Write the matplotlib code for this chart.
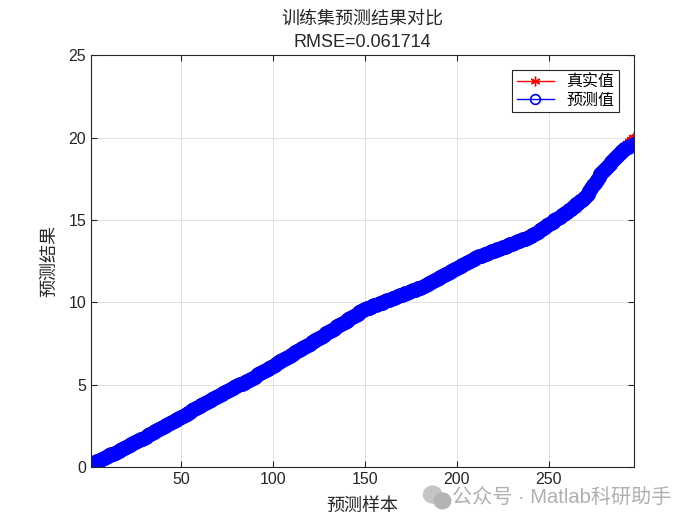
import numpy as np
import matplotlib
matplotlib.use('Agg')
import matplotlib.pyplot as plt
from matplotlib.patches import Ellipse

plt.rcParams['font.family'] = ['Liberation Sans', 'Noto Sans CJK SC', 'DejaVu Sans']
plt.rcParams['axes.unicode_minus'] = False

# 真实值 (样本 1..296)
y_true = [
    0.08, 0.21, 0.26, 0.32, 0.38, 0.43, 0.49, 0.55, 0.61, 0.66,
    0.72, 0.78, 0.83, 0.89, 0.95, 1.00, 1.06, 1.12, 1.17, 1.23,
    1.29, 1.35, 1.40, 1.46, 1.52, 1.57, 1.63, 1.69, 1.74, 1.80,
    1.86, 1.93, 1.99, 2.05, 2.12, 2.18, 2.24, 2.31, 2.37, 2.43,
    2.50, 2.56, 2.62, 2.69, 2.75, 2.81, 2.88, 2.94, 3.00, 3.07,
    3.13, 3.19, 3.26, 3.32, 3.38, 3.45, 3.51, 3.57, 3.64, 3.70,
    3.76, 3.82, 3.88, 3.94, 4.00, 4.06, 4.12, 4.18, 4.24, 4.30,
    4.36, 4.42, 4.48, 4.54, 4.60, 4.66, 4.72, 4.78, 4.84, 4.90,
    4.96, 5.02, 5.08, 5.14, 5.20, 5.26, 5.32, 5.38, 5.44, 5.50,
    5.57, 5.63, 5.70, 5.77, 5.83, 5.90, 5.97, 6.03, 6.10, 6.17,
    6.23, 6.30, 6.37, 6.43, 6.50, 6.57, 6.63, 6.70, 6.77, 6.83,
    6.90, 6.97, 7.03, 7.10, 7.17, 7.23, 7.30, 7.37, 7.43, 7.50,
    7.57, 7.64, 7.71, 7.78, 7.85, 7.92, 7.99, 8.06, 8.13, 8.20,
    8.27, 8.34, 8.41, 8.48, 8.55, 8.62, 8.69, 8.76, 8.83, 8.90,
    8.97, 9.04, 9.11, 9.18, 9.25, 9.32, 9.39, 9.46, 9.53, 9.60,
    9.64, 9.69, 9.73, 9.77, 9.82, 9.86, 9.90, 9.95, 9.99, 10.03,
    10.08, 10.12, 10.16, 10.21, 10.25, 10.29, 10.34, 10.38, 10.42, 10.47,
    10.51, 10.55, 10.60, 10.64, 10.68, 10.73, 10.77, 10.81, 10.86, 10.90,
    10.96, 11.02, 11.08, 11.14, 11.20, 11.26, 11.32, 11.38, 11.44, 11.50,
    11.56, 11.62, 11.68, 11.74, 11.80, 11.86, 11.92, 11.98, 12.04, 12.10,
    12.16, 12.22, 12.28, 12.34, 12.40, 12.46, 12.52, 12.58, 12.64, 12.70,
    12.74, 12.79, 12.83, 12.87, 12.92, 12.96, 13.00, 13.05, 13.09, 13.13,
    13.18, 13.22, 13.26, 13.31, 13.35, 13.39, 13.44, 13.48, 13.52, 13.57,
    13.61, 13.65, 13.70, 13.74, 13.78, 13.83, 13.87, 13.91, 13.96, 14.00,
    14.08, 14.15, 14.23, 14.30, 14.38, 14.45, 14.53, 14.60, 14.68, 14.75,
    14.83, 14.90, 14.98, 15.05, 15.13, 15.20, 15.28, 15.35, 15.43, 15.50,
    15.59, 15.68, 15.77, 15.86, 15.95, 16.04, 16.13, 16.23, 16.34, 16.46,
    16.60, 16.76, 16.93, 17.10, 17.27, 17.44, 17.61, 17.78,
    17.92, 18.05, 18.18, 18.30, 18.42, 18.54, 18.66, 18.78, 18.90, 19.02,
    19.14, 19.27, 19.39, 19.51, 19.63, 19.76, 19.88, 20.00,
]

# 预测值: 中间段与真实值基本重合, 首尾有偏差
pred_head = [0.22, 0.26, 0.31, 0.35, 0.40]
pred_tail = [18.88, 18.99, 19.10, 19.20, 19.29, 19.37, 19.44, 19.50, 19.55, 19.60]
y_pred = pred_head + y_true[len(pred_head):-len(pred_tail)] + pred_tail

rmse_text = 'RMSE=0.061714'
x = np.arange(1, len(y_true) + 1)

fig = plt.figure(figsize=(7, 5.25), dpi=100)
ax = fig.add_axes([0.13, 0.11, 0.775, 0.785])

asterisk = (6, 2, 0)
ax.plot(x, y_true, color='red', marker=asterisk, markersize=9, linewidth=1.0,
        markeredgewidth=1.2, label='真实值')
ax.plot(x, y_pred, color='blue', marker='o', markersize=9, linewidth=1.0,
        markerfacecolor='none', markeredgewidth=1.8, label='预测值')

ax.set_xlim(1, len(y_true))
ax.set_ylim(0, 25)
ax.set_xticks([50, 100, 150, 200, 250])
ax.set_yticks([0, 5, 10, 15, 20, 25])
ax.grid(True, color='#dcdcdc', linewidth=0.6)
ax.set_axisbelow(True)
ax.tick_params(direction='in', labelsize=11.5, colors='#262626', length=4,
               top=True, right=True)
for sp in ax.spines.values():
    sp.set_color('#262626')
    sp.set_linewidth(0.8)

ax.set_xlabel('预测样本', fontsize=13, color='#262626', labelpad=8)
ax.set_ylabel('预测结果', fontsize=13, color='#262626', labelpad=7)
ax.set_title('训练集预测结果对比\n' + rmse_text, fontsize=13, color='#262626',
             linespacing=1.45, pad=6)

leg = ax.legend(loc='upper right', fontsize=11.5, fancybox=False, framealpha=1,
                edgecolor='#262626', borderpad=0.3, handlelength=2.3,
                labelspacing=0.2, borderaxespad=0.9)
leg.get_frame().set_linewidth(0.8)
leg.legend_handles[0].set_markersize(7)
leg.legend_handles[1].set_markersize(7)
leg.legend_handles[0].set_markeredgewidth(1.0)
leg.legend_handles[1].set_markeredgewidth(1.2)

# 水印
fig.patches.append(Ellipse((0.618, 0.058), 0.026, 0.032, transform=fig.transFigure,
                           color='#c4c4c4', zorder=5))
fig.patches.append(Ellipse((0.632, 0.046), 0.024, 0.030, transform=fig.transFigure,
                           color='#b4b4b4', zorder=6))
fig.text(0.646, 0.053, '公众号 · Matlab科研助手', fontsize=14.5, color='#b0b0b0',
         ha='left', va='center')

plt.savefig('out.png', dpi=100)
